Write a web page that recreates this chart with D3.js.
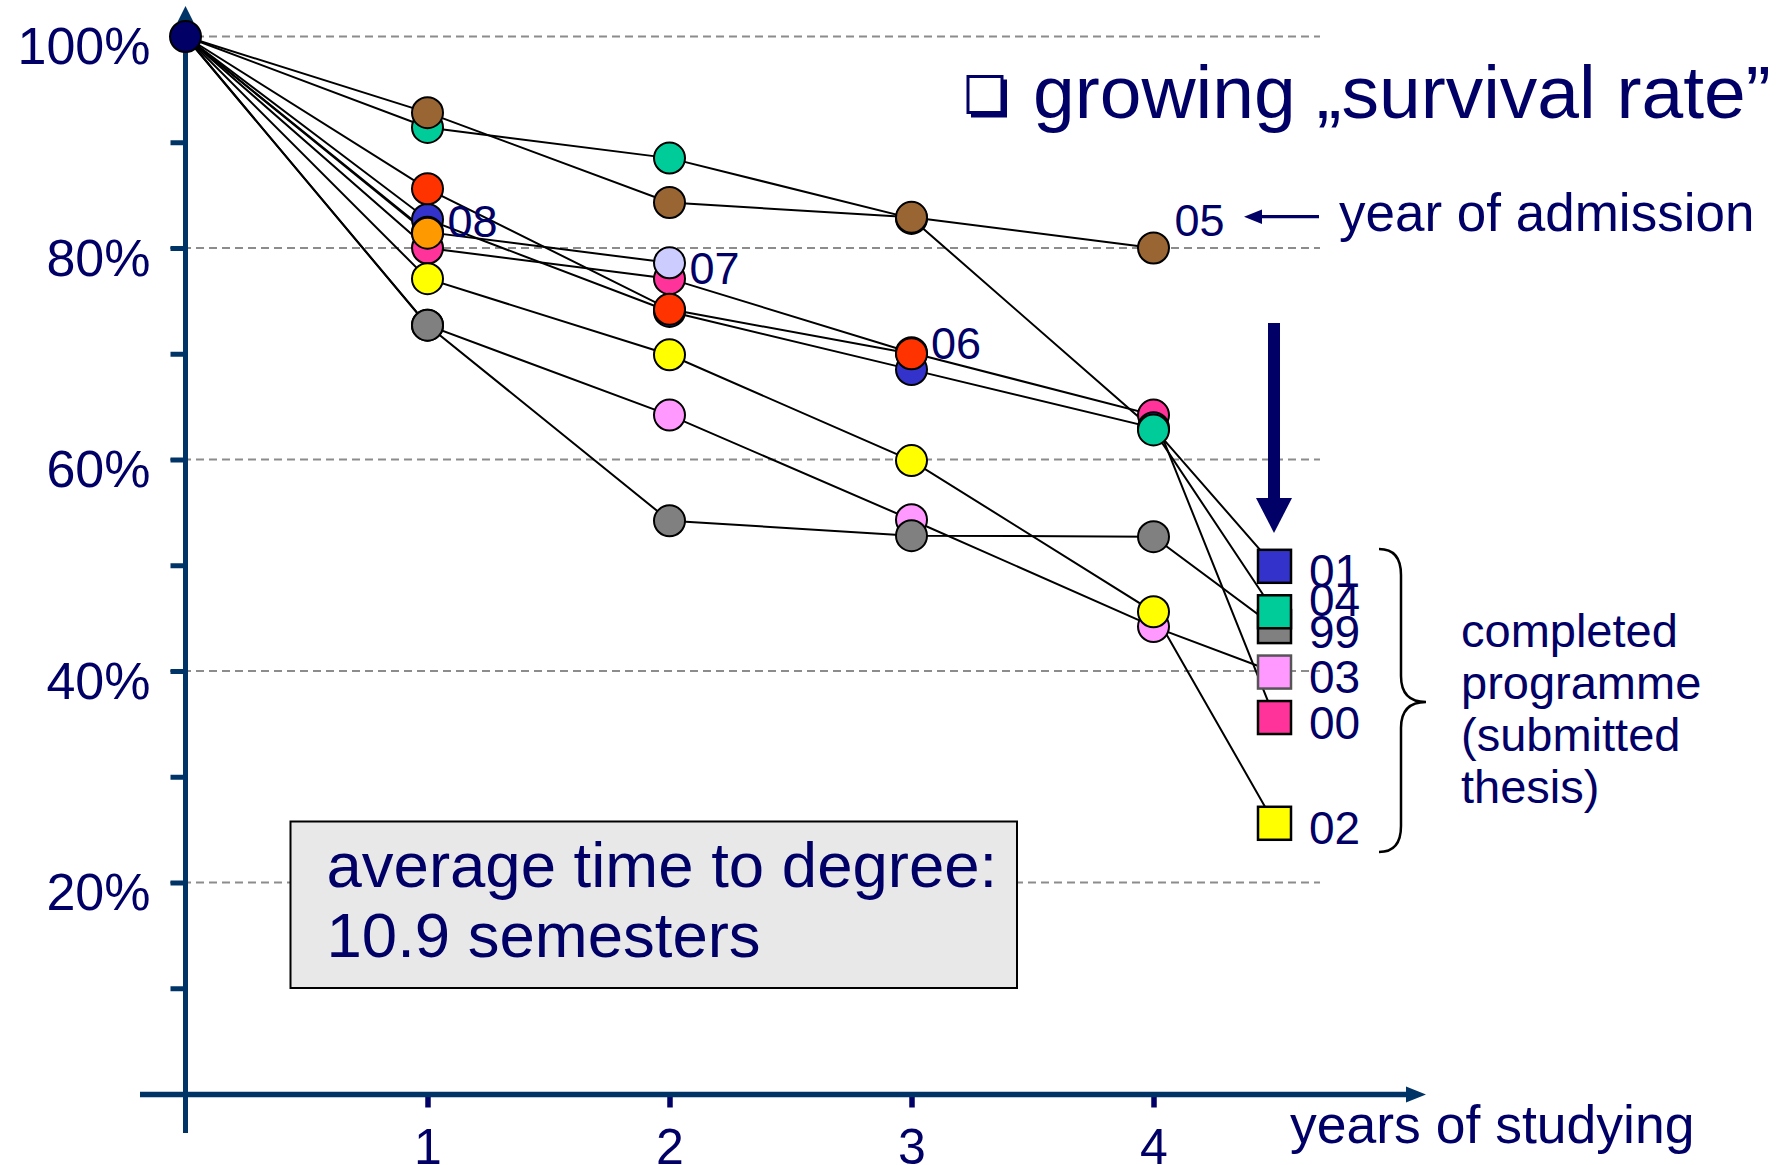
<!DOCTYPE html>
<html><head><meta charset="utf-8">
<script src="https://cdn.jsdelivr.net/npm/d3@7"></script>
<style>
html,body{margin:0;padding:0;background:#fff;}
svg{display:block;font-family:"Liberation Sans",Arial,Helvetica,sans-serif;}
</style></head><body>
<svg id="chart" width="1780" height="1165"></svg>
<script>
// ---------- data ----------
const years = [0, 1, 2, 3, 4];
const completionYear = 4.5;
const cohorts = ["99", "00", "01", "02", "03", "04", "05", "06", "07", "08"];
const cohortColors = ["#808080", "#FF3399", "#3333CC", "#FFFF00", "#FF99FF", "#00CC99", "#996633", "#FF3300", "#CCCCFF", "#FF9900"];
// survival (%) at start and after each year of studying
const s99 = [100, 72.7, 54.2, 52.8, 52.7];
const s00 = [100, 80.0, 77.1, 70.1, 64.2];
const s01 = [100, 82.7, 74.0, 68.5, 63.0];
const s02 = [100, 77.1, 69.9, 59.9, 45.6];
const s03 = [100, 72.7, 64.2, 54.3, 44.2];
const s04 = [100, 91.4, 88.5, 82.8, 62.8];
const s05 = [100, 92.8, 84.3, 82.9, 80.0];
const s06 = [100, 85.6, 74.2, 70.0];
const s07 = [100, 81.5, 78.6];
const s08 = [100, 81.4];
// completed programme (submitted thesis), %
const completedCohorts = ["01", "04", "99", "03", "00", "02"];
const completedValues = [49.9, 45.6, 44.2, 39.9, 35.6, 25.6];
// axes
const yTickValues = [10, 20, 30, 40, 50, 60, 70, 80, 90, 100];
const yLabelValues = [20, 40, 60, 80, 100];
const xTickValues = [1, 2, 3, 4];
// texts
const titleText = "growing „survival rate”";
const admissionText = "year of admission";
const xAxisTitle = "years of studying";
const braceText = ["completed", "programme", "(submitted", "thesis)"];
const boxText = ["average time to degree:", "10.9 semesters"];

// ---------- drawing ----------
const seriesValues = [s99, s00, s01, s02, s03, s04, s05, s06, s07, s08];
const NAVY = "#000066", AXIS = "#003366";
const svg = d3.select("#chart");
const x = d3.scaleLinear().domain([0, 4]).range([185.5, 1153.5]);
const y = d3.scaleLinear().domain([0, 100]).range([1094, 36.5]);

const series = cohorts.map((c, i) => {
  const pts = seriesValues[i].map((v, j) => ({x: years[j], v}));
  const k = completedCohorts.indexOf(c);
  const done = k >= 0 ? {x: completionYear, v: completedValues[k]} : null;
  return {c, color: cohortColors[i], pts, done};
});
const byName = Object.fromEntries(series.map(s => [s.c, s]));

// gridlines
svg.append("g").selectAll("line").data(yLabelValues).join("line")
  .attr("x1", 170).attr("x2", 1320)
  .attr("y1", d => y(d)).attr("y2", d => y(d))
  .attr("stroke", "#8c8c8c").attr("stroke-width", 2).attr("stroke-dasharray", "8,5");

// y axis ticks and labels
const yAxis = d3.axisLeft(y).tickValues(yTickValues).tickSize(15).tickPadding(20)
  .tickFormat(d => yLabelValues.includes(d) ? d + "%" : "");
const gy = svg.append("g").attr("transform", `translate(${x(0)},0)`).call(yAxis);
gy.select(".domain").remove();
gy.selectAll(".tick line").attr("stroke", AXIS).attr("stroke-width", 5);
gy.selectAll(".tick text").attr("fill", NAVY).attr("font-size", 52)
  .attr("font-family", "Liberation Sans, Arial, sans-serif").attr("dy", 27);

// x axis ticks and labels
const axisY = y(0) + 0.5;
const xAxis = d3.axisBottom(x).tickValues(xTickValues).tickSize(13).tickPadding(21).tickFormat(d3.format("d"));
const gx = svg.append("g").attr("transform", `translate(0,${axisY})`).call(xAxis);
gx.select(".domain").remove();
gx.selectAll(".tick line").attr("stroke", NAVY).attr("stroke-width", 5.5);
gx.selectAll(".tick text").attr("fill", NAVY).attr("font-size", 50)
  .attr("font-family", "Liberation Sans, Arial, sans-serif");

// axis lines with arrows
svg.append("line").attr("x1", x(0)).attr("x2", x(0)).attr("y1", 1133).attr("y2", 20)
  .attr("stroke", AXIS).attr("stroke-width", 5);
svg.append("path").attr("d", `M${x(0) - 8},22 L${x(0) + 8},22 L${x(0)},6 Z`).attr("fill", AXIS);
svg.append("line").attr("x1", 140).attr("x2", 1410).attr("y1", axisY).attr("y2", axisY)
  .attr("stroke", AXIS).attr("stroke-width", 5.5);
svg.append("path").attr("d", `M1406,${axisY - 8} L1406,${axisY + 8} L1426,${axisY} Z`).attr("fill", AXIS);

// series lines
const line = d3.line().x(d => x(d.x)).y(d => y(d.v));
svg.append("g").selectAll("path").data(series).join("path")
  .attr("d", s => line(s.done ? s.pts.concat([s.done]) : s.pts))
  .attr("fill", "none").attr("stroke", "#000").attr("stroke-width", 2);

// completion squares
const sq = 33;
svg.append("g").selectAll("rect").data(completedCohorts.map(c => byName[c]).reverse()).join("rect")
  .attr("x", s => x(s.done.x) - sq / 2).attr("y", s => y(s.done.v) - sq / 2)
  .attr("width", sq).attr("height", sq)
  .attr("fill", s => s.color).attr("stroke", s => s.c === "03" ? "#555" : "#000").attr("stroke-width", 2.5);
const doneLabelDy = {"04": 4};
svg.append("g").selectAll("text").data(completedCohorts.map(c => byName[c])).join("text")
  .attr("x", s => x(s.done.x) + 34.5)
  .attr("y", s => y(s.done.v) + (doneLabelDy[s.c] !== undefined ? doneLabelDy[s.c] : 21))
  .attr("fill", NAVY).attr("font-size", 46).text(s => s.c);

// circles (after year 0), in layering order
const circleOrder = ["03", "00", "01", "02", "99", "04", "05", "07", "06", "08"];
const circles = [];
circleOrder.forEach(c => byName[c].pts.slice(1).forEach(p => circles.push({x: p.x, v: p.v, color: byName[c].color})));
svg.append("g").selectAll("circle").data(circles).join("circle")
  .attr("cx", d => x(d.x)).attr("cy", d => y(d.v)).attr("r", 15.5)
  .attr("fill", d => d.color).attr("stroke", "#000").attr("stroke-width", 2);
// common starting point
svg.append("circle").attr("cx", x(years[0])).attr("cy", y(s99[0])).attr("r", 15.5)
  .attr("fill", NAVY).attr("stroke", "#000").attr("stroke-width", 2);

// open cohort labels
const openLabels = ["08", "07", "06", "05"];
const openOffset = {"08": [20, 4], "07": [20, 21], "06": [19.5, 5], "05": [21, -12.5]};
svg.append("g").selectAll("text").data(openLabels.map(c => byName[c])).join("text")
  .attr("x", s => x(s.pts[s.pts.length - 1].x) + openOffset[s.c][0])
  .attr("y", s => y(s.pts[s.pts.length - 1].v) + openOffset[s.c][1])
  .attr("fill", NAVY).attr("font-size", 45).text(s => s.c);

// title with square bullet
svg.append("rect").attr("x", 971).attr("y", 79.5).attr("width", 36).attr("height", 38).attr("fill", NAVY);
svg.append("rect").attr("x", 968).attr("y", 76.5).attr("width", 34).attr("height", 36)
  .attr("fill", "#fff").attr("stroke", NAVY).attr("stroke-width", 3);
svg.append("text").attr("x", 1033).attr("y", 118).attr("fill", NAVY).attr("font-size", 75).text(titleText);

// year of admission pointer
svg.append("line").attr("x1", 1319).attr("x2", 1256).attr("y1", 216.7).attr("y2", 216.7)
  .attr("stroke", NAVY).attr("stroke-width", 3.3);
svg.append("path").attr("d", "M1244,216.7 L1262,209.5 L1262,223.9 Z").attr("fill", NAVY);
svg.append("text").attr("x", 1339).attr("y", 231).attr("fill", NAVY).attr("font-size", 53).text(admissionText);

// big down arrow
svg.append("rect").attr("x", 1268).attr("y", 323).attr("width", 12).attr("height", 178).attr("fill", NAVY);
svg.append("path").attr("d", "M1256,498 L1292,498 L1274,533 Z").attr("fill", NAVY);

// brace and its text
svg.append("path")
  .attr("d", "M1379,549 Q1401,549 1401,575 L1401,676 Q1401,702 1426,702 Q1401,702 1401,728 L1401,826 Q1401,852 1379,852")
  .attr("fill", "none").attr("stroke", "#000").attr("stroke-width", 2.5);
svg.append("g").selectAll("text").data(braceText).join("text")
  .attr("x", 1461).attr("y", (d, i) => 647 + i * 52)
  .attr("fill", NAVY).attr("font-size", 47).text(d => d);

// x axis title
svg.append("text").attr("x", 1290).attr("y", 1143).attr("fill", NAVY).attr("font-size", 53.5).text(xAxisTitle);

// info box
svg.append("rect").attr("x", 290.5).attr("y", 821.5).attr("width", 726.5).attr("height", 166.5)
  .attr("fill", "#E8E8E8").attr("stroke", "#000").attr("stroke-width", 2);
svg.append("g").selectAll("text").data(boxText).join("text")
  .attr("x", 326.5).attr("y", (d, i) => 886.5 + i * 70)
  .attr("fill", NAVY).attr("font-size", 63.5).text(d => d);
</script>
</body></html>
